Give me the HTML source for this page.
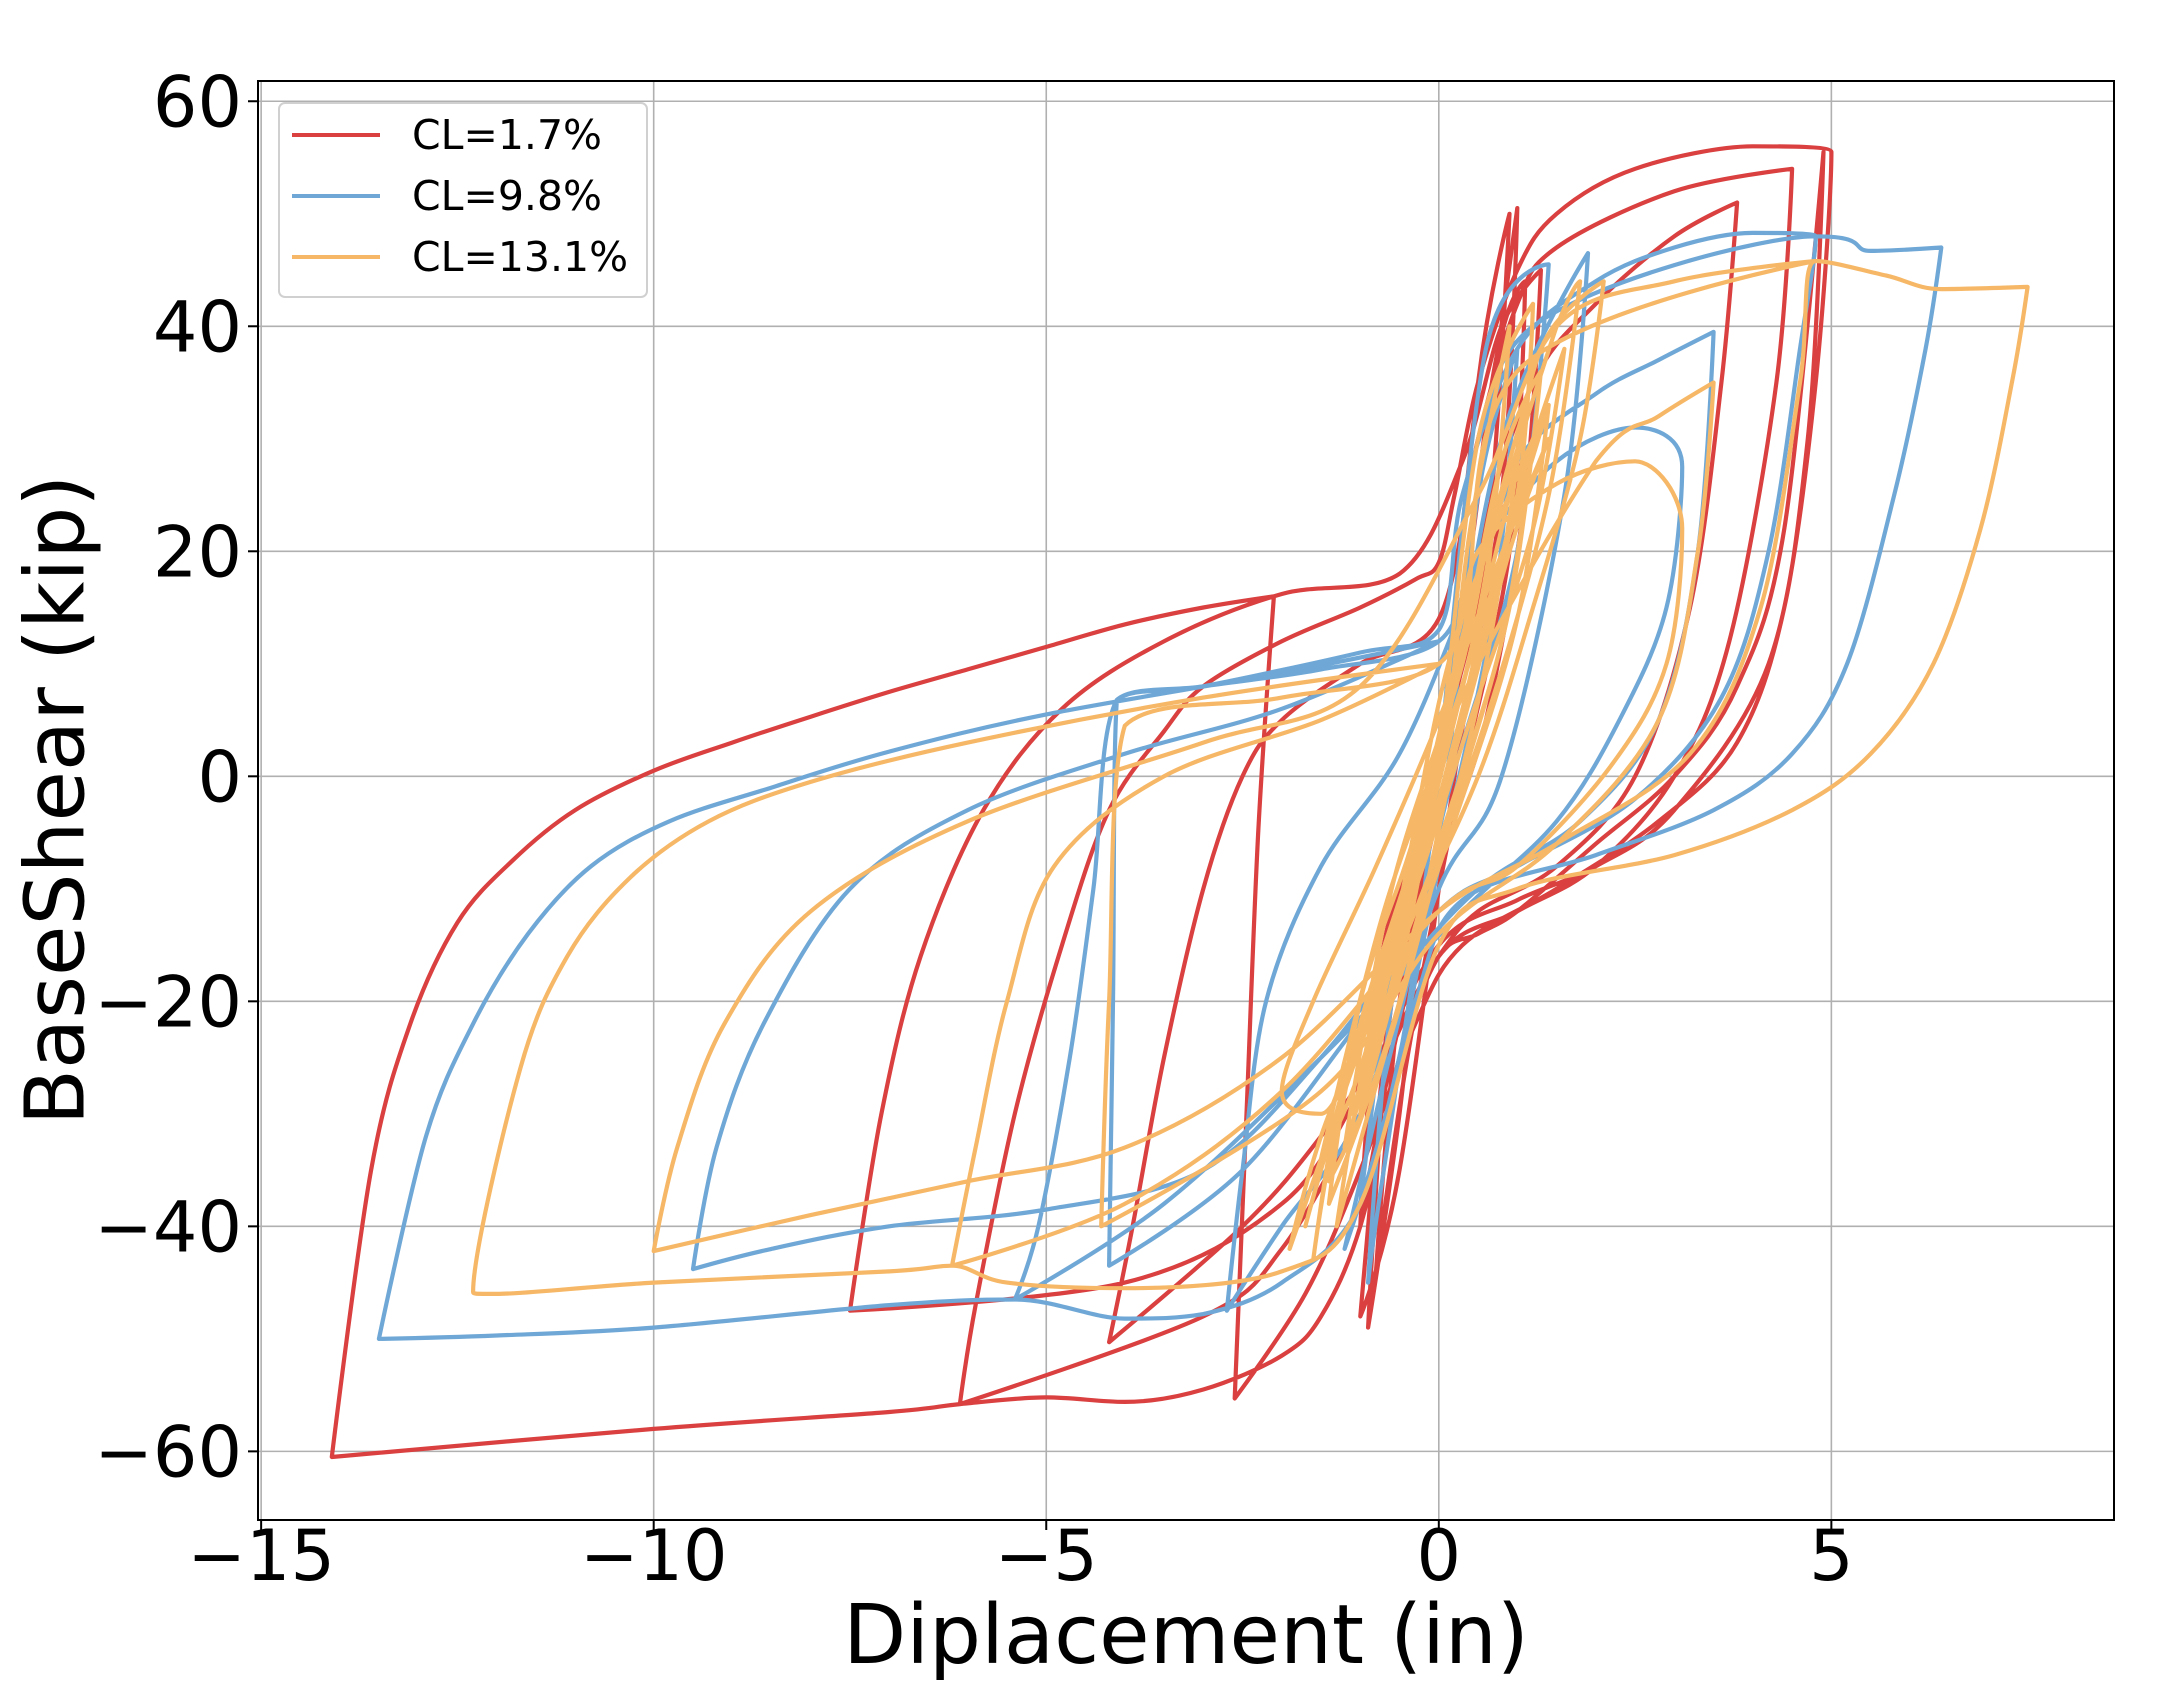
<!DOCTYPE html>
<html><head><meta charset="utf-8"><style>
html,body{margin:0;padding:0;background:#fff;}
svg{display:block;font-family:"DejaVu Sans","Liberation Sans",sans-serif;}
</style></head><body>
<svg id="chart" width="2179" height="1691" viewBox="0 0 2179 1691" xmlns="http://www.w3.org/2000/svg">
<g id="grid"></g>
<g id="series"></g>
<rect x="258" y="81" width="1856" height="1439" fill="none" stroke="#000" stroke-width="2"/>
<g id="ticks"></g>
<text x="1186" y="1663" font-size="82" text-anchor="middle">Diplacement (in)</text>
<text transform="translate(56,800) rotate(-90)" font-size="82" text-anchor="middle" dominant-baseline="central">BaseShear (kip)</text>
<g>
<rect x="279" y="103" width="368" height="194" rx="6" fill="#fff" fill-opacity="0.8" stroke="#d0d0d0" stroke-width="2"/>
<line x1="292" y1="135" x2="380" y2="135" stroke="#d9403f" stroke-width="4"/>
<text x="412" y="149" font-size="41">CL=1.7%</text>
<line x1="292" y1="196" x2="380" y2="196" stroke="#6fa8d6" stroke-width="4"/>
<text x="412" y="210" font-size="41">CL=9.8%</text>
<line x1="292" y1="257" x2="380" y2="257" stroke="#f6b866" stroke-width="4"/>
<text x="412" y="271" font-size="41">CL=13.1%</text>
</g>
</svg>
<script>
const xTicks=[-15,-10,-5,0,5];
const yTicks=[-60,-40,-20,0,20,40,60];
const xTickLabels=["\u221215","\u221210","\u22125","0","5"];
const yTickLabels=["\u221260","\u221240","\u221220","0","20","40","60"];
const seriesNames=["CL=1.7%","CL=9.8%","CL=13.1%"];
const redXY=[0,0,0.5,35,0.9,50,0.6,20,0,0,-0.5,-30,-0.9,-49,-0.6,-20,0,0,0.6,30,1.0,50.5,0.8,25,0.2,0,-0.5,-35,-1,-48,-0.7,-25,-0.5,-15,0,0,0.5,20,1.2,35,2,42,3,48,3.8,51,3.6,35,3.2,15,2.5,0,1.5,-8,0.5,-12,0,-16,-0.5,-22,-1.5,-32,-2.5,-40,-4.2,-50.3,-3.9,-40,-3.5,-25,-3,-10,-2.5,0,-2,5,-1,10,0,14,0.5,30,1,42,1.5,47,3,52,4.5,54,4.3,35,3.7,12,3,0,2,-8,1,-12,0,-16,-1,-30,-2,-42,-3,-48,-6.1,-55.8,-5.9,-47,-5.4,-30,-4.8,-15,-4.2,-3,-3.5,4,-3,8,-2,12,-1,15,-0.3,17.5,0,19,0.2,25,0.5,35,1,45,1.5,50,2.5,54,4,56,5,55.5,4.8,35,4.4,15,3.8,3,2.8,-4,1.5,-10,0.3,-15,-0.3,-22,-1,-35,-1.7,-46,-2.6,-55.3,-2.45,-30,-2.3,-5,-2.1,16,-3,15,-4,13.5,-5,11.5,-6,9.5,-7,7.5,-8,5.3,-9,3,-10,0.5,-11,-3,-11.8,-7.5,-12.5,-13,-13.1,-22,-13.6,-35,-14.1,-60.5,-10,-58,-7,-56.5,-6.1,-55.8,-5,-55.2,-4,-55.6,-3,-54.5,-2,-51.5,-1.5,-48,-1,-40,-0.5,-25,0,-16,0.5,-14,1,-12,2,-6,3,0,3.8,8,4.4,22,4.9,55.5,4.7,30,4.2,10,3,-3,2,-8,1,-11,0,-15,-1,-28,-2,-38,-4,-45,-7.5,-47.5,-7.1,-30,-6.6,-16,-5.8,-3,-4.8,6,-3.5,12,-2,16.2,-0.5,18,0.3,28,0.8,40,1.3,45,1.1,25,0.6,5,0,-8,-0.6,-25,-1.0,-40,-0.7,-15,0,0,0.7,36,1.1,44,0.9,20,0.2,-3,-0.4,-25,-0.8,-44,-0.5,-20,0,-3];
const blueXY=[0,0,0.6,38,1.4,45.5,1,20,0,-5,-0.7,-35,-0.9,-45,-0.6,-20,0,0,0.8,30,1.9,46.5,1.6,25,0.8,0,0,-10,-1,-30,-2,-40,-2.7,-47.5,-2.5,-35,-2.2,-20,-1.5,-8,-0.5,2,0.3,15,1,28,2,34,2.8,37,3.5,39.5,3.3,20,2.8,5,1.8,-4,0.5,-10,-0.8,-20,-2.5,-35,-4.2,-43.5,-4.15,-20,-4.1,6.8,-3,8,-1.5,9.5,0,12,0.5,20,1.5,28,2.5,31,3.1,27.5,2.9,15,2.3,5,1.5,-4,0.3,-12,-1.5,-25,-3.5,-38,-5.4,-46.5,-5.1,-40,-4.7,-25,-4.4,-10,-4.1,6.8,-3,8,-1,11,0,13,0.3,25,1,38,2,44,3,47,4,48.3,4.8,48,4.6,38,4.2,20,3.6,7,2.5,-2,1,-8,0,-12,-1.5,-25,-3,-35,-5,-38.5,-7,-40,-8.5,-42,-9.5,-43.8,-9.2,-33,-8.6,-22,-7.5,-10,-6,-3,-4,2,-2,6,0,12,-2,9.2,-5,5.5,-7,2.2,-8.5,-1,-9.8,-4,-10.8,-8,-11.6,-14,-12.3,-22,-12.9,-32,-13.5,-50,-12,-49.7,-10,-49,-7,-47,-5.4,-46.5,-4,-48.2,-3,-47.8,-2,-45,-1,-38,-0.3,-20,0.3,-11,2,-7,3.5,-3,4.5,2,5.2,10,5.8,25,6.2,38,6.4,47,5.5,46.7,4.8,48,1.2,40,0.5,25,0,0,-0.5,-25,-1.2,-42,-0.8,-30,0,-5,0.5,25,1.0,38,0.7,15,0,-8,-0.6,-28,-1.0,-38,-0.5,-12,0,0];
const orangeXY=[0,0,0.5,30,1.2,42,1.0,25,0.3,5,-0.5,-20,-1.4,-38,-1.0,-20,-0.3,-5,0.4,15,1.5,40,1.8,44,1.4,25,0.6,5,-0.3,-12,-1.2,-28,-1.6,-43,-1.3,-30,-0.8,-18,0,0,0.8,22,1.3,38,2.1,44,1.8,30,1.2,15,0.5,0,-0.5,-15,-1.5,-30,-2,-28,-1.6,-20,-0.8,-8,0,5,0.7,18,1.4,30,0.9,20,0.2,2,-0.4,-10,-1.1,-25,-1.7,-40,-1.2,-28,-0.4,-12,0.3,5,1,25,1.6,38,1.2,22,0.4,5,-0.2,-8,-0.9,-22,-1.9,-42,-1.5,-32,-0.6,-15,0.2,8,0.8,28,1.3,36,0.9,15,0.1,-5,-0.7,-25,-1.4,-36,-1.0,-22,-0.2,-4,0.6,20,1.1,33,0.6,10,-0.1,-10,-0.9,-30,-1.3,-40,-0.8,-20,0,0,0.4,22,0.9,40,0.6,18,-0.2,-6,-1.0,-26,-1.5,-34,-0.7,-12,0.2,6,1.4,33,1.0,14,0.2,-4,-0.6,-20,-1.2,-33,-0.6,-10,0.3,10,0.7,25,0.5,12,-0.3,-10,-0.8,-24,-0.4,-8,0.2,12,1.2,30,0.8,12,0,-6,-0.5,-18,-1.1,-30,-0.5,-14,0.1,4,2.0,28,2.8,32,3.5,35,3.3,20,2.8,5,1.5,-6,0,-14,-1.5,-28,-4.3,-40,-4.2,-20,-4.0,4.5,-2,7,0,10,0.5,20,1.5,26,2.5,28,3.1,22,2.9,10,2.2,1,1,-8,0,-12,-2,-28,-4,-38,-6.2,-43.5,-5.9,-33,-5.5,-20,-4.9,-8,-3.5,0,-1.5,5,0,10,-3,7,-6,3,-8,-0.5,-9.3,-4,-10.3,-9,-11.1,-16,-11.7,-26,-12.3,-45.8,-12,-46,-10,-45,-7,-44,-6.2,-43.5,-5.5,-45,-4,-45.5,-2,-44,-1,-38,0,-15,1,-10,3,-7,4.5,-3,5.5,2,6.3,10,6.9,22,7.3,35,7.5,43.5,6.4,43.3,5.7,44.5,4.8,45.8,4.6,35,4.1,15,3.2,2,1.5,-6,0,-12,-2,-25,-4,-33,-6,-36,-8,-39,-10,-42.2,-9.7,-33,-9.1,-22,-8,-12,-6,-4,-3,3,-1,8,0.5,25,1.5,40,3,44,4.8,45.8,1,36,0.3,12,-0.4,-14,-1.0,-30,-0.6,-16,0,0];
const xMin=-15.04,xMax=8.6,yMin=-66.1,yMax=61.8;
const L=258,R=2114,T=81,B=1520;
function xs(v){return L+(v-xMin)/(xMax-xMin)*(R-L);}
function ys(v){return B-(v-yMin)/(yMax-yMin)*(B-T);}
const NS="http://www.w3.org/2000/svg";
const grid=document.getElementById('grid'),ticks=document.getElementById('ticks'),ser=document.getElementById('series');
xTicks.forEach((t,i)=>{
  const g=document.createElementNS(NS,'line');
  
  
  g.setAttribute('x1',xs(t));g.setAttribute('x2',xs(t));g.setAttribute('y1',T);g.setAttribute('y2',B);
  g.setAttribute('stroke','#b0b0b0');g.setAttribute('stroke-width','1.6');grid.appendChild(g);
  const tk=document.createElementNS(NS,'line');
  
  
  tk.setAttribute('x1',xs(t));tk.setAttribute('x2',xs(t));tk.setAttribute('y1',B);tk.setAttribute('y2',B+10);
  tk.setAttribute('stroke','#000');tk.setAttribute('stroke-width','2');ticks.appendChild(tk);
  const tx=document.createElementNS(NS,'text');
  
  
  tx.setAttribute('x',xs(t));tx.setAttribute('y',1580);tx.setAttribute('font-size','70');tx.setAttribute('text-anchor','middle');
  tx.textContent=xTickLabels[i];ticks.appendChild(tx);
});
yTicks.forEach((t,i)=>{
  const g=document.createElementNS(NS,'line');
  
  
  g.setAttribute('x1',L);g.setAttribute('x2',R);g.setAttribute('y1',ys(t));g.setAttribute('y2',ys(t));
  g.setAttribute('stroke','#b0b0b0');g.setAttribute('stroke-width','1.6');grid.appendChild(g);
  const tk=document.createElementNS(NS,'line');
  
  
  tk.setAttribute('x1',L-10);tk.setAttribute('x2',L);tk.setAttribute('y1',ys(t));tk.setAttribute('y2',ys(t));
  tk.setAttribute('stroke','#000');tk.setAttribute('stroke-width','2');ticks.appendChild(tk);
  const tx=document.createElementNS(NS,'text');
  
  
  tx.setAttribute('x',242);tx.setAttribute('y',ys(t)+25);tx.setAttribute('font-size','70');tx.setAttribute('text-anchor','end');
  tx.textContent=yTickLabels[i];ticks.appendChild(tx);
});
function tangent(P,i){
  const n=P.length;
  if(i===0||i===n-1)return [0,0];
  const a=P[i-1],b=P[i],c=P[i+1];
  let mx=(c[0]-a[0])*0.5,my=(c[1]-a[1])*0.5;
  if((b[0]-a[0])*(c[0]-b[0])<=0)mx=0;
  if((b[1]-a[1])*(c[1]-b[1])<=0)my=0;
  return [mx,my];
}
function draw(arr,color,name){
  const P=[];
  for(let i=0;i<arr.length;i+=2)P.push([xs(arr[i]),ys(arr[i+1])]);
  const M=P.map((_,i)=>tangent(P,i));
  let d='M'+P[0][0].toFixed(1)+' '+P[0][1].toFixed(1);
  for(let i=0;i<P.length-1;i++){
    const p1=P[i],p2=P[i+1];
    const sx=Math.abs(p2[0]-p1[0]),sy=Math.abs(p2[1]-p1[1]);
    const cl=(v,s)=>Math.max(-s,Math.min(s,v));
    const c1=[p1[0]+cl(M[i][0]/3,sx),p1[1]+cl(M[i][1]/3,sy)];
    const c2=[p2[0]-cl(M[i+1][0]/3,sx),p2[1]-cl(M[i+1][1]/3,sy)];
    d+='C'+c1[0].toFixed(1)+' '+c1[1].toFixed(1)+' '+c2[0].toFixed(1)+' '+c2[1].toFixed(1)+' '+p2[0].toFixed(1)+' '+p2[1].toFixed(1);
  }
  const p=document.createElementNS(NS,'path');
  
  
  p.setAttribute('d',d);p.setAttribute('fill','none');p.setAttribute('stroke',color);
  p.setAttribute('stroke-width','4.2');p.setAttribute('stroke-linejoin','round');
  ser.appendChild(p);
}
draw(redXY,'#d9403f','series-cl-1-7');
draw(blueXY,'#6fa8d6','series-cl-9-8');
draw(orangeXY,'#f6b866','series-cl-13-1');
</script>
</body></html>
